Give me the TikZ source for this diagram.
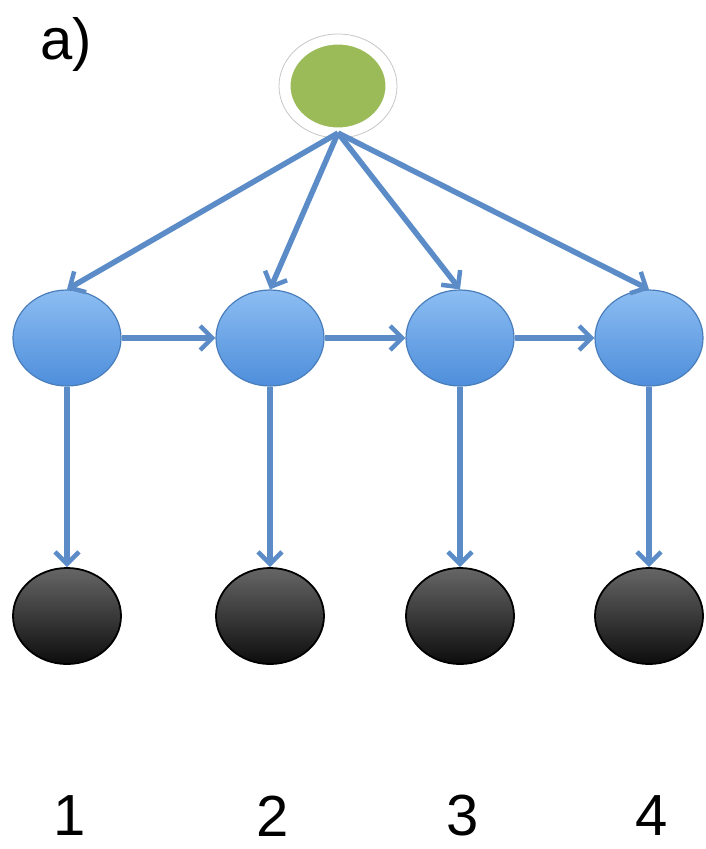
\documentclass[tikz,border=0pt]{standalone}
\usepackage{fontspec}
\setmainfont{Liberation Sans}
\usetikzlibrary{shapes.geometric,arrows.meta}
\definecolor{arrowblue}{HTML}{5B8CC8}
\definecolor{nodeblueT}{HTML}{8CBDF2}
\definecolor{nodeblueB}{HTML}{4E8EDB}
\definecolor{nodeedge}{HTML}{4A7EBB}
\definecolor{greenfill}{HTML}{9BBB59}
\tikzset{
  hidden/.style={ellipse, inner sep=0pt, minimum width=108pt, minimum height=96pt,
    top color=nodeblueT, bottom color=nodeblueB, draw=nodeedge, line width=1.2pt},
  observed/.style={ellipse, inner sep=0pt, minimum width=108pt, minimum height=96pt,
    top color=black!60, bottom color=black!95, draw=black, line width=1.8pt},
  root/.style={ellipse, inner sep=0pt, minimum width=100pt, minimum height=88pt,
    fill=greenfill, draw=white, line width=5pt},
  halo/.style={ellipse, inner sep=0pt, minimum width=118pt, minimum height=104pt,
    fill=white, draw=black!22, line width=0.8pt},
  conn/.style={draw=arrowblue, line width=5.5pt,
    -{Straight Barb[length=12pt,width=24pt,line width=4.5pt]}},
  lbl/.style={font=\fontsize{58}{58}\selectfont, inner sep=0pt}
}
\begin{document}
\begin{tikzpicture}[x=1pt,y=-1pt]
\useasboundingbox (0,0) rectangle (706,849);
\node[halo] (halo) at (338,86) {};
\node[root] (top) at (338,86) {};
\coordinate (apex) at (338,133);
\foreach \i/\x in {1/67,2/270,3/460,4/649}{
  \node[hidden] (h\i) at (\x,338) {};
  \node[observed] (o\i) at (\x,616) {};
  \node[lbl] (n\i) at (\x+3,816) {\i};
}
\node[lbl] (a) at (66,44) {a)};
\foreach \i in {1,2,3,4}{
  \draw[conn] (apex) -- (h\i.north);
  \draw[conn] (h\i.south) -- (o\i.north);
}
\draw[conn] (h1.east) -- (h2.west);
\draw[conn] (h2.east) -- (h3.west);
\draw[conn] (h3.east) -- (h4.west);
\end{tikzpicture}
\end{document}
